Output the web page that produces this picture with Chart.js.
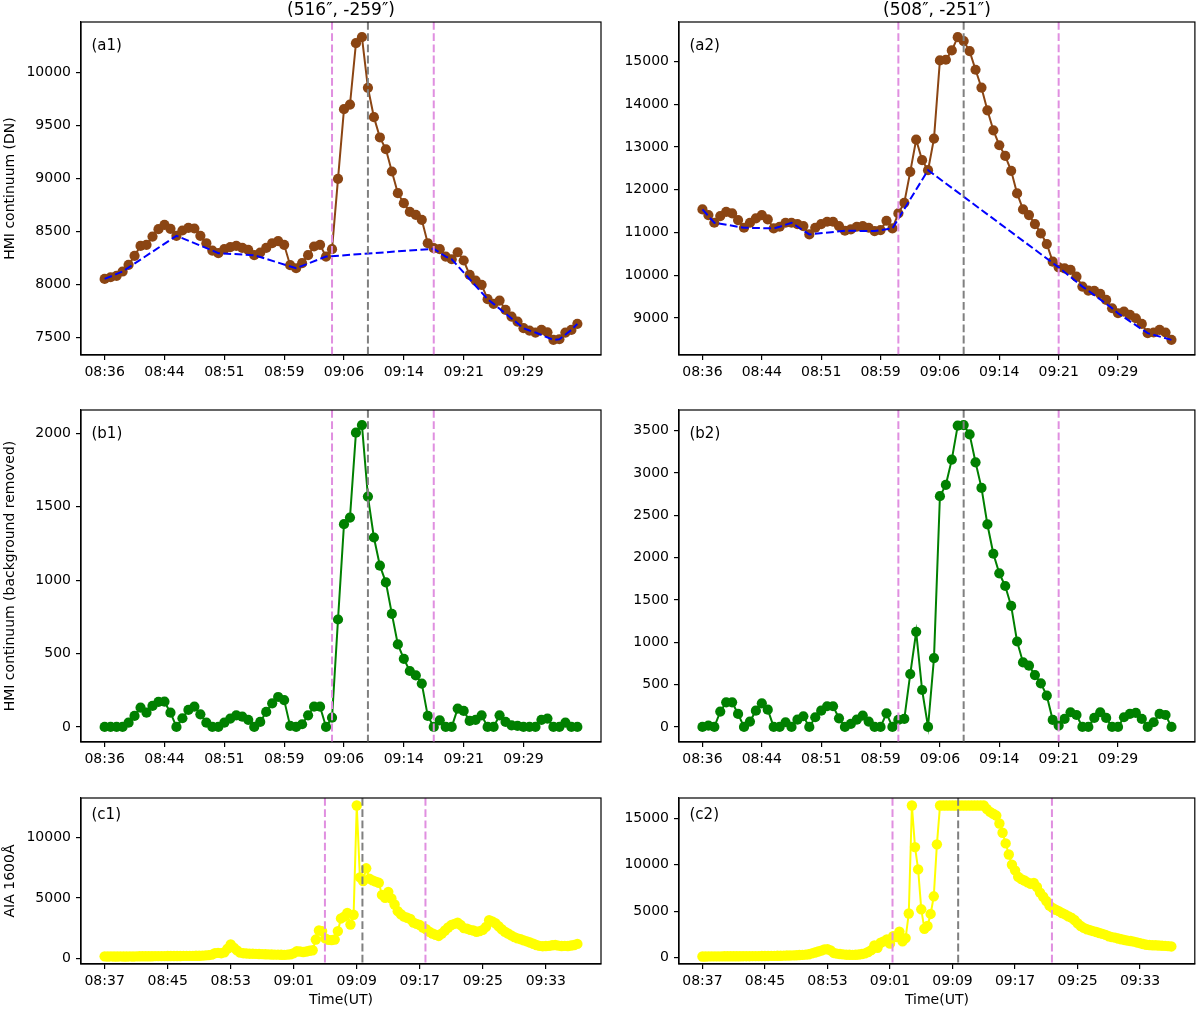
<!DOCTYPE html>
<html><head><meta charset="utf-8">
<script src="https://cdn.jsdelivr.net/npm/chart.js@4.4.1/dist/chart.umd.min.js"></script>
<style>
html,body{margin:0;padding:0;background:#fff;}
body{width:1200px;height:1009px;position:relative;overflow:hidden;}
canvas{position:absolute;}
</style></head><body>
<canvas id="a1" width="610" height="385" style="left:0;top:0"></canvas>
<canvas id="a2" width="585" height="385" style="left:615px;top:0"></canvas>
<canvas id="b1" width="610" height="387" style="left:0;top:385px"></canvas>
<canvas id="b2" width="585" height="387" style="left:615px;top:385px"></canvas>
<canvas id="c1" width="610" height="237" style="left:0;top:772px"></canvas>
<canvas id="c2" width="585" height="237" style="left:615px;top:772px"></canvas>
<script>
// ---------------- data ----------------
const hmiTickIdx = [0,10,20,30,40,50,60,70];
const hmiTickLabels = ['08:36','08:44','08:51','08:59','09:06','09:14','09:21','09:29'];
const aiaTickIdx = [0,20,40,60,80,100,120,140];
const aiaTickLabels = ['08:37','08:45','08:53','09:01','09:09','09:17','09:25','09:33'];

const titles = ['(516\u2033, -259\u2033)', '(508\u2033, -251\u2033)'];

const a1Hmi = [8050,8066,8079,8120,8183,8268,8362,8372,8450,8520,
8560,8523,8457,8507,8532,8526,8457,8387,8318,8293,
8331,8350,8362,8343,8324,8274,8299,8343,8387,8406,
8372,8180,8151,8199,8274,8356,8372,8261,8331,8995,
9652,9696,10275,10332,9854,9577,9385,9274,9064,8859,
8765,8683,8655,8608,8387,8340,8331,8261,8236,8302,
8224,8088,8035,7994,7859,7815,7846,7758,7695,7648,
7585,7563,7544,7569,7547,7475,7481,7544,7569,7626];
const a1BgIdx = [0,3,12,18,19,25,32,37,55,57,58,64,65,70,71,72,75,76,78,79];
const a1BgVal = [8050,8120,8457,8318,8293,8274,8151,8261,8335,8261,8236,7859,7815,7585,7563,7544,7475,7481,7569,7626];

const a2Hmi = [11537,11405,11226,11381,11482,11444,11288,11109,11226,11327,
11405,11304,11093,11132,11226,11226,11195,11148,10953,11109,
11195,11249,11249,11148,11039,11070,11132,11148,11109,11031,
11054,11272,11093,11444,11693,12416,13171,12689,12455,13195,
15023,15039,15257,15568,15475,15241,14805,14385,13856,13389,
13039,12790,12440,11911,11537,11405,11195,10977,10728,10315,
10183,10160,10121,9965,9732,9638,9630,9560,9420,9226,
9109,9148,9070,8992,8860,8642,8658,8720,8658,8486];
const a2BgIdx = [0,2,7,12,13,15,18,24,29,30,32,38,60,64,65,69,70,75,79];
const a2BgVal = [11537,11226,11109,11093,11132,11226,10953,11039,11031,11054,11093,12455,10183,9732,9638,9226,9109,8642,8486];

const b1Diff = [0,0,0,0,29,75,131,97,143,170,
172,97,0,59,116,138,86,29,0,0,
29,57,79,70,48,0,34,102,161,204,
183,7,0,18,79,138,138,0,63,732,
1382,1427,2005,2057,1570,1291,1099,985,770,562,
464,381,351,295,75,0,45,0,0,125,
109,41,48,79,0,0,79,34,11,7,
0,0,0,48,57,0,0,29,0,0];

const b2Diff = [0,16,0,181,291,291,153,0,63,192,
279,204,0,0,55,0,86,126,0,114,
192,244,244,102,0,35,86,134,63,0,
0,161,0,82,94,624,1123,436,0,813,
2726,2860,3158,3559,3566,3456,3126,2824,2392,2046,
1815,1665,1430,1009,762,723,613,515,369,82,
16,94,173,141,0,0,106,173,106,0,
0,114,153,165,94,0,55,153,141,0];

const c1Aia = [160,150,155,150,150,155,150,150,155,150,
160,165,165,170,170,170,175,175,180,180,
185,185,190,190,190,195,195,200,200,205,
210,220,240,260,300,420,450,420,500,800,
1150,880,650,470,420,400,380,380,360,350,
340,330,320,310,300,300,290,280,300,330,
420,580,560,520,560,620,660,1550,2300,2250,
1650,1520,1500,1550,2250,3300,3450,3750,2800,3600,
12650,6700,6400,7450,6600,6450,6350,6250,5250,5000,
5500,4950,4450,3900,3650,3450,3350,3250,2950,2850,
2750,2550,2400,2200,2050,1950,1850,2050,2300,2550,
2750,2850,2950,2750,2500,2450,2350,2300,2200,2250,
2350,2600,3150,3050,2900,2650,2400,2200,2050,1900,
1750,1650,1580,1480,1400,1300,1200,1100,1030,1000,
1020,1030,1080,1100,1050,1020,1030,1020,1060,1100,1190];

const c2Aia = [120,120,125,125,130,130,130,135,135,140,
140,145,145,150,150,150,155,160,160,165,
170,175,180,185,190,200,210,220,230,240,
250,270,290,320,350,450,550,650,750,880,
900,780,500,420,380,340,310,300,290,300,
330,380,450,600,800,1300,1050,1600,1750,1950,
1500,2300,2200,2800,1750,2100,4750,16380,11900,9500,
5200,3100,3400,4700,6600,12200,16380,16380,16380,16380,
16380,16380,16380,16380,16380,16380,16380,16380,16380,16380,
16380,16000,15700,15500,15300,14450,13450,12300,11100,10000,
9400,8700,8450,8300,8100,7950,8050,7600,7000,6550,
6100,5600,5350,5150,5000,4800,4650,4450,4300,4050,
3700,3400,3200,3050,2950,2850,2750,2650,2550,2450,
2300,2200,2150,2050,1970,1900,1830,1780,1720,1630,
1550,1460,1380,1350,1330,1320,1300,1280,1260,1230,1200];

const a1YTicks = [7500,8000,8500,9000,9500,10000];
const a2YTicks = [9000,10000,11000,12000,13000,14000,15000];
const b1YTicks = [0,500,1000,1500,2000];
const b2YTicks = [0,500,1000,1500,2000,2500,3000,3500];
const c1YTicks = [0,5000,10000];
const c2YTicks = [0,5000,10000,15000];

// event markers (x in sample-index units)
const lines1Hmi = [38,44,55];
const lines2Hmi = [33,44,60];
const lines1Aia = [69.9,81.8,101.8];
const lines2Aia = [60.8,81.8,111.8];

// ---------------- drawing ----------------
const FONT = 'DejaVu Sans';
const VIOLET = '#e08fe0', GREY = '#808080';

const overlay = {
  id: 'overlay',
  afterDatasetsDraw(chart, args, opts) {
    const {ctx, chartArea: {left, right, top, bottom}, scales: {x}} = chart;
    ctx.save();
    ctx.lineWidth = 2;
    ctx.setLineDash([7.8, 3.4]);
    opts.lines.forEach((v, k) => {
      const px = x.getPixelForValue(v);
      ctx.strokeStyle = k === 1 ? GREY : VIOLET;
      ctx.beginPath(); ctx.moveTo(px, top); ctx.lineTo(px, bottom); ctx.stroke();
    });
    ctx.restore();
  },
  afterDraw(chart, args, opts) {
    const {ctx, chartArea: {left, right, top, bottom}} = chart;
    ctx.save();
    ctx.strokeStyle = '#000'; ctx.lineWidth = 1.2; ctx.setLineDash([]);
    ctx.strokeRect(left, top, right - left, bottom - top);
    ctx.fillStyle = '#000';
    ctx.font = '15px "' + FONT + '"';
    ctx.textBaseline = 'middle'; ctx.textAlign = 'left';
    ctx.fillText(opts.label, left + 10.5, top + opts.labelDy);
    ctx.restore();
  }
};

function idxSeries(arr) { return arr.map((v, i) => ({x: i, y: v})); }
function pairSeries(xs, ys) { return xs.map((v, i) => ({x: v, y: ys[i]})); }

function lim(arrs) {
  const all = [].concat(...arrs);
  const mn = Math.min(...all), mx = Math.max(...all), pad = (mx - mn) * 0.05;
  return [mn - pad, mx + pad];
}

function lineDs(data, color, r, order) {
  return {data, borderColor: color, backgroundColor: color, borderWidth: 2,
    pointRadius: r, pointBorderWidth: 0, pointBackgroundColor: color,
    tension: 0, order, fill: false};
}
function dashDs(data, color) {
  return {data, borderColor: color, borderWidth: 2, borderDash: [7.8, 3.4],
    pointRadius: 0, tension: 0, order: 0, fill: false};
}

function build(id, p) {
  const [ymin, ymax] = lim(p.yRange);
  return new Chart(document.getElementById(id), {
    type: 'line',
    data: {datasets: p.datasets},
    options: {
      responsive: false, animation: false, devicePixelRatio: 1,
      layout: {padding: {top: p.padTop, right: p.padRight, left: 0, bottom: 0}},
      plugins: {
        legend: {display: false}, tooltip: {enabled: false},
        title: p.title ? {display: true, fullSize: false, text: p.title, color: '#000',
          font: {family: FONT, size: 17, weight: 'normal'}, padding: {top: 0, bottom: 1.6}} : {display: false},
        overlay: {lines: p.lines, label: p.label, labelDy: p.labelDy}
      },
      scales: {
        x: {
          type: 'linear', min: p.xMin, max: p.xMax,
          afterBuildTicks: s => { s.ticks = p.xTicks.map(v => ({value: v})); },
          ticks: {autoSkip: false, maxRotation: 0, color: '#000', padding: 4,
            font: {family: FONT, size: 14},
            callback: v => { const k = p.xTicks.indexOf(v); return k >= 0 ? p.xLabels[k] : ''; }},
          grid: {drawOnChartArea: false, drawTicks: true, tickLength: 5, color: '#000', lineWidth: 1.2},
          border: {display: true, color: '#000', width: 1.2},
          title: p.xTitle ? {display: true, text: p.xTitle, color: '#000',
            font: {family: FONT, size: 14}, padding: {top: 0, bottom: 0.6}} : {display: false},
          afterFit: s => { s.height = p.xH; s.paddingLeft = 0; s.paddingRight = 0; }
        },
        y: {
          type: 'linear', min: ymin, max: ymax,
          afterBuildTicks: s => { s.ticks = p.yTicks.map(v => ({value: v})); },
          ticks: {color: '#000', padding: 5, font: {family: FONT, size: 14},
            callback: v => String(v)},
          grid: {drawOnChartArea: false, drawTicks: true, tickLength: 5, color: '#000', lineWidth: 1.2},
          border: {display: true, color: '#000', width: 1.2},
          title: p.yTitle ? {display: true, text: p.yTitle, color: '#000',
            font: {family: FONT, size: 14}, padding: {top: 1.5, bottom: 0}} : {display: false},
          afterFit: s => { s.width = p.yW; s.paddingTop = 0; s.paddingBottom = 0; }
        }
      }
    },
    plugins: [overlay]
  });
}

const hmiX = {xMin: -3.95, xMax: 82.95, xTicks: hmiTickIdx, xLabels: hmiTickLabels};
const aiaX = {xMin: -7.5, xMax: 157.5, xTicks: aiaTickIdx, xLabels: aiaTickLabels};
const BROWN = '#8b4513', BLUE = '#0000ff', GREEN = '#008000', YELLOW = '#ffff00';

build('a1', Object.assign({}, hmiX, {
  datasets: [lineDs(idxSeries(a1Hmi), BROWN, 5.1, 1), dashDs(pairSeries(a1BgIdx, a1BgVal), BLUE)],
  yRange: [a1Hmi], yTicks: a1YTicks, title: titles[0], padTop: 0, padRight: 9, yW: 81, xH: 30,
  yTitle: 'HMI continuum (DN)', lines: lines1Hmi, label: '(a1)', labelDy: 24.5}));
build('a2', Object.assign({}, hmiX, {
  datasets: [lineDs(idxSeries(a2Hmi), BROWN, 5.1, 1), dashDs(pairSeries(a2BgIdx, a2BgVal), BLUE)],
  yRange: [a2Hmi], yTicks: a2YTicks, title: titles[1], padTop: 0, padRight: 2, yW: 64, xH: 30,
  lines: lines2Hmi, label: '(a2)', labelDy: 24.5}));
build('b1', Object.assign({}, hmiX, {
  datasets: [lineDs(idxSeries(b1Diff), GREEN, 5.1, 1)],
  yRange: [b1Diff], yTicks: b1YTicks, padTop: 25, padRight: 9, yW: 81, xH: 30,
  yTitle: 'HMI continuum (background removed)', lines: lines1Hmi, label: '(b1)', labelDy: 24.5}));
build('b2', Object.assign({}, hmiX, {
  datasets: [lineDs(idxSeries(b2Diff), GREEN, 5.1, 1)],
  yRange: [b2Diff], yTicks: b2YTicks, padTop: 25, padRight: 2, yW: 64, xH: 30,
  lines: lines2Hmi, label: '(b2)', labelDy: 24.5}));
build('c1', Object.assign({}, aiaX, {
  datasets: [lineDs(idxSeries(c1Aia), YELLOW, 5.2, 1)],
  yRange: [c1Aia], yTicks: c1YTicks, padTop: 26, padRight: 9, yW: 81, xH: 45,
  yTitle: 'AIA 1600Å', xTitle: 'Time(UT)', lines: lines1Aia, label: '(c1)', labelDy: 17}));
build('c2', Object.assign({}, aiaX, {
  datasets: [lineDs(idxSeries(c2Aia), YELLOW, 5.2, 1)],
  yRange: [c2Aia], yTicks: c2YTicks, padTop: 26, padRight: 2, yW: 64, xH: 45,
  xTitle: 'Time(UT)', lines: lines2Aia, label: '(c2)', labelDy: 17}));
</script>
</body></html>
